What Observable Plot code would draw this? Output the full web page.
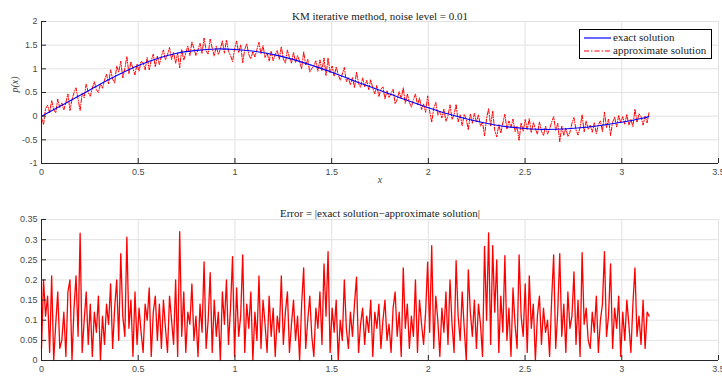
<!DOCTYPE html>
<html><head><meta charset="utf-8">
<script src="https://cdn.jsdelivr.net/npm/d3@7"></script>
<script src="https://cdn.jsdelivr.net/npm/@observablehq/plot@0.6"></script>
<style>
body{margin:0;background:#fff;}
#wrap{position:relative;width:722px;height:377px;overflow:hidden;background:#fff;}
#wrap svg.plot{position:absolute;left:0;}
.legend{position:absolute;left:579px;top:29px;width:131px;height:28px;border:1px solid #000;background:#fff;font-family:"Liberation Serif",serif;font-size:11px;color:#222;}
.legend .row{position:absolute;left:4px;height:13px;line-height:13px;white-space:nowrap;}
.legend svg{vertical-align:middle;margin-right:2px;}
</style></head>
<body><div id="wrap"></div>
<script>
// ---- data ----
const xTicks = [0, 0.5, 1, 1.5, 2, 2.5, 3, 3.5];
const yTicksTop = [-1, -0.5, 0, 0.5, 1, 1.5, 2];
const yTicksErr = [0, 0.05, 0.1, 0.15, 0.2, 0.25, 0.3, 0.35];
const xEnd = 3.1416;

const exactX = [0,0.1,0.2,0.3,0.4,0.5,0.6,0.7,0.8,0.9,1.0,1.1,1.2,1.3,1.4,1.5,1.6,1.7,1.8,1.9,2.0,2.1,2.2,2.3,2.4,2.5,2.6,2.7,2.8,2.9,3.0,3.1,3.14];
const exactY = [0,0.22,0.44,0.67,0.88,1.07,1.22,1.33,1.39,1.42,1.41,1.37,1.30,1.20,1.07,0.93,0.77,0.62,0.47,0.32,0.18,0.05,-0.06,-0.15,-0.22,-0.26,-0.28,-0.27,-0.24,-0.19,-0.13,-0.05,-0.01];

// approximate solution, samples evenly spaced on [0, pi]
const approxY = [
 -0.03,-0.18,0.16,0.23,0.07,0.33,0.14,0.07,0.36,0.18,0.28,0.13,0.29,0.47,0.12,0.35,0.50,0.60,0.36,0.12,
 0.48,0.39,0.68,0.50,0.42,0.59,0.73,0.56,0.50,0.68,0.59,0.76,0.89,0.68,0.98,0.78,0.70,1.06,0.93,1.16,
 0.81,1.00,1.26,0.90,1.15,1.01,0.87,1.10,0.95,1.16,1.13,0.98,1.24,0.98,1.18,1.31,1.04,1.27,1.09,1.27,
 1.40,1.19,1.30,1.45,1.20,1.35,1.12,1.34,1.02,1.41,1.18,1.34,1.48,1.28,1.57,1.43,1.28,1.40,1.54,1.33,
 1.65,1.38,1.31,1.63,1.44,1.27,1.48,1.30,1.42,1.59,1.33,1.61,1.37,1.28,1.15,1.42,1.59,1.34,1.51,1.13,
 1.41,1.53,1.30,1.21,1.37,1.25,1.41,1.56,1.32,1.49,1.24,1.34,1.16,1.37,1.17,1.30,1.39,1.20,1.47,1.21,
 1.12,1.40,1.24,1.12,1.35,1.13,1.28,1.16,1.00,1.36,1.08,1.20,0.93,1.01,1.07,1.17,0.95,1.19,0.96,1.23,
 0.86,1.23,0.92,1.06,0.84,1.04,0.88,0.76,0.89,1.03,0.73,0.82,0.66,0.82,0.60,0.93,0.69,0.61,0.81,0.62,
 0.76,0.56,0.77,0.59,0.47,0.65,0.41,0.57,0.62,0.36,0.54,0.39,0.48,0.57,0.26,0.35,0.52,0.37,0.60,0.27,
 0.47,0.29,0.19,0.35,0.47,0.24,0.39,0.14,0.26,0.08,0.43,0.10,-0.13,0.17,0.29,0.02,0.11,-0.04,0.15,-0.11,
 0.01,0.24,-0.07,0.03,0.25,-0.12,0.03,-0.20,0.04,-0.06,-0.29,0.05,-0.15,0.06,-0.13,0.03,-0.21,-0.12,-0.42,-0.05,
 0.16,-0.21,0.11,-0.30,-0.44,-0.18,-0.36,-0.14,0.04,-0.27,-0.10,-0.24,-0.06,-0.33,-0.21,-0.51,-0.14,-0.32,-0.07,-0.28,
 -0.05,-0.35,-0.13,-0.27,-0.38,-0.12,-0.32,-0.41,-0.21,-0.38,-0.27,-0.13,-0.01,-0.30,-0.15,-0.54,-0.21,-0.41,-0.25,-0.43,
 -0.34,-0.15,-0.03,-0.29,-0.40,-0.24,0.03,-0.33,-0.10,-0.28,-0.19,-0.34,-0.14,-0.37,-0.18,-0.10,-0.33,0.09,-0.24,-0.06,
 -0.41,-0.13,-0.02,-0.23,0.02,-0.14,-0.01,-0.17,0.04,-0.19,-0.07,-0.22,0.15,-0.13,0.05,-0.01,-0.19,0.00,-0.14,0.10];

// error, samples evenly spaced on [0, pi]
const errorY = [
 0.03,0.20,0.11,0.16,0.02,0.21,0.00,0.09,0.17,0.03,0.05,0.12,0.01,0.17,0.20,0.00,0.13,0.21,0.06,0.316,
 0.02,0.10,0.17,0.04,0.14,0.01,0.12,0.07,0.16,0.00,0.11,0.04,0.14,0.09,0.19,0.03,0.13,0.20,0.05,0.265,
 0.11,0.06,0.306,0.08,0.15,0.01,0.17,0.04,0.13,0.07,0.02,0.14,0.10,0.18,0.01,0.12,0.16,0.05,0.14,0.03,
 0.15,0.08,0.02,0.16,0.10,0.04,0.20,0.01,0.32,0.06,0.17,0.02,0.12,0.09,0.19,0.05,0.11,0.01,0.14,0.07,
 0.245,0.03,0.10,0.218,0.02,0.15,0.06,0.12,0.00,0.17,0.09,0.20,0.04,0.13,0.258,0.01,0.18,0.06,0.11,0.262,
 0.02,0.14,0.08,0.17,0.00,0.12,0.05,0.21,0.03,0.15,0.09,0.02,0.16,0.06,0.13,0.01,0.11,0.07,0.21,0.04,
 0.12,0.17,0.02,0.09,0.15,0.05,0.11,0.00,0.14,0.23,0.03,0.10,0.16,0.06,0.01,0.13,0.08,0.17,0.04,0.24,
 0.11,0.27,0.02,0.13,0.07,0.15,0.00,0.10,0.05,0.20,0.08,0.03,0.12,0.06,0.14,0.207,0.02,0.09,0.13,0.04,
 0.11,0.07,0.15,0.01,0.12,0.08,0.14,0.03,0.10,0.15,0.05,0.09,0.02,0.13,0.17,0.06,0.12,0.01,0.23,0.08,
 0.14,0.03,0.11,0.06,0.20,0.02,0.15,0.09,0.04,0.12,0.244,0.07,0.285,0.03,0.16,0.10,0.01,0.13,0.07,0.17,
 0.04,0.20,0.09,0.02,0.248,0.11,0.05,0.17,0.08,0.00,0.225,0.12,0.06,0.15,0.03,0.14,0.09,0.01,0.283,0.10,
 0.317,0.04,0.285,0.12,0.25,0.02,0.16,0.07,0.26,0.05,0.13,0.01,0.18,0.09,0.03,0.262,0.11,0.06,0.19,0.02,
 0.21,0.08,0.14,0.00,0.11,0.16,0.04,0.13,0.07,0.10,0.01,0.15,0.262,0.03,0.12,0.265,0.06,0.14,0.02,0.17,
 0.08,0.11,0.22,0.04,0.15,0.01,0.268,0.09,0.13,0.05,0.03,0.12,0.07,0.16,0.02,0.10,0.14,0.27,0.06,0.11,
 0.24,0.03,0.13,0.08,0.16,0.01,0.12,0.05,0.15,0.09,0.02,0.14,0.23,0.06,0.11,0.04,0.15,0.03,0.12,0.11];

const titleTop = "KM iterative method, noise level = 0.01";
const titleErr = "Error = |exact solution\u2212approximate solution|";
const legendLabels = ["exact solution", "approximate solution"];

// ---- tables ----
const exact = exactX.map((x, i) => ({x, y: exactY[i]}));
const approx = approxY.map((y, i) => ({x: i * xEnd / (approxY.length - 1), y}));
const err = errorY.map((y, i) => ({x: i * xEnd / (errorY.length - 1), y}));

const serif = "'Liberation Serif', 'Times New Roman', serif";
const sans = "'Liberation Sans', Arial, sans-serif";
const gridColor = "#e2e2e2";
const axisColor = "#262626";
const plotStyle = {fontFamily: sans, fontSize: "9px", color: "#4a4a4a", background: "transparent", overflow: "visible"};

const topChart = Plot.plot({
  width: 722, height: 190,
  marginLeft: 41, marginRight: 4, marginTop: 21, marginBottom: 27,
  style: plotStyle,
  x: {domain: [0, 3.5]},
  y: {domain: [-1, 2]},
  marks: [
    Plot.gridX(xTicks, {stroke: gridColor, strokeOpacity: 1}),
    Plot.gridY(yTicksTop, {stroke: gridColor, strokeOpacity: 1}),
    Plot.line(approx, {x: "x", y: "y", stroke: "#ff0000", strokeWidth: 1, strokeDasharray: "4,1.5,1,1.5"}),
    Plot.line(exact, {x: "x", y: "y", stroke: "#0000ff", strokeWidth: 1.1, curve: "natural"}),
    Plot.ruleY([-1], {stroke: axisColor}),
    Plot.ruleX([0], {stroke: axisColor}),
    Plot.axisX(xTicks, {tickSize: -5, tickPadding: 10, tickFormat: d => String(d), label: null, stroke: axisColor}),
    Plot.axisY(yTicksTop, {tickSize: -5, tickPadding: 9, tickFormat: d => String(d), label: null, stroke: axisColor}),
    Plot.text([titleTop], {frameAnchor: "top", dy: -9.5, fontFamily: serif, fontSize: 11, fill: "#222"}),
    Plot.text(["x"], {frameAnchor: "bottom", dy: 19, fontFamily: serif, fontStyle: "italic", fontSize: 10, fill: "#444"}),
    Plot.text(["p(x)"], {frameAnchor: "left", dx: -27, rotate: -90, fontFamily: serif, fontStyle: "italic", fontSize: 10, fill: "#444"})
  ]
});
topChart.classList.add("plot");
topChart.style.top = "0px";

const bottomChart = Plot.plot({
  width: 722, height: 187,
  marginLeft: 41, marginRight: 4, marginTop: 29, marginBottom: 17,
  style: plotStyle,
  x: {domain: [0, 3.5]},
  y: {domain: [0, 0.35]},
  marks: [
    Plot.gridX(xTicks, {stroke: gridColor, strokeOpacity: 1}),
    Plot.gridY(yTicksErr, {stroke: gridColor, strokeOpacity: 1}),
    Plot.line(err, {x: "x", y: "y", stroke: "#ff0000", strokeWidth: 1.3}),
    Plot.ruleY([0], {stroke: axisColor}),
    Plot.ruleX([0], {stroke: axisColor}),
    Plot.axisX(xTicks, {tickSize: -5, tickPadding: 10, tickFormat: d => String(d), label: null, stroke: axisColor}),
    Plot.axisY(yTicksErr, {tickSize: -5, tickPadding: 9, tickFormat: d => String(d), label: null, stroke: axisColor}),
    Plot.text([titleErr], {frameAnchor: "top", dy: -10, fontFamily: serif, fontSize: 11, fill: "#222"})
  ]
});
bottomChart.classList.add("plot");
bottomChart.style.top = "190px";

const wrap = document.getElementById("wrap");
wrap.appendChild(topChart);
wrap.appendChild(bottomChart);

// legend
const leg = document.createElement("div");
leg.className = "legend";
const swatches = [
  `<svg width="27" height="6"><line x1="0" x2="27" y1="3" y2="3" stroke="#0000ff" stroke-width="1.2"/></svg>`,
  `<svg width="27" height="6"><line x1="0" x2="27" y1="3" y2="3" stroke="#ff0000" stroke-width="1.2" stroke-dasharray="5,2,1.5,2"/></svg>`
];
legendLabels.forEach((t, i) => {
  const r = document.createElement("div");
  r.className = "row";
  r.style.top = (i === 0 ? 1 : 14) + "px";
  r.innerHTML = swatches[i] + t;
  leg.appendChild(r);
});
wrap.appendChild(leg);
</script>
</body></html>
